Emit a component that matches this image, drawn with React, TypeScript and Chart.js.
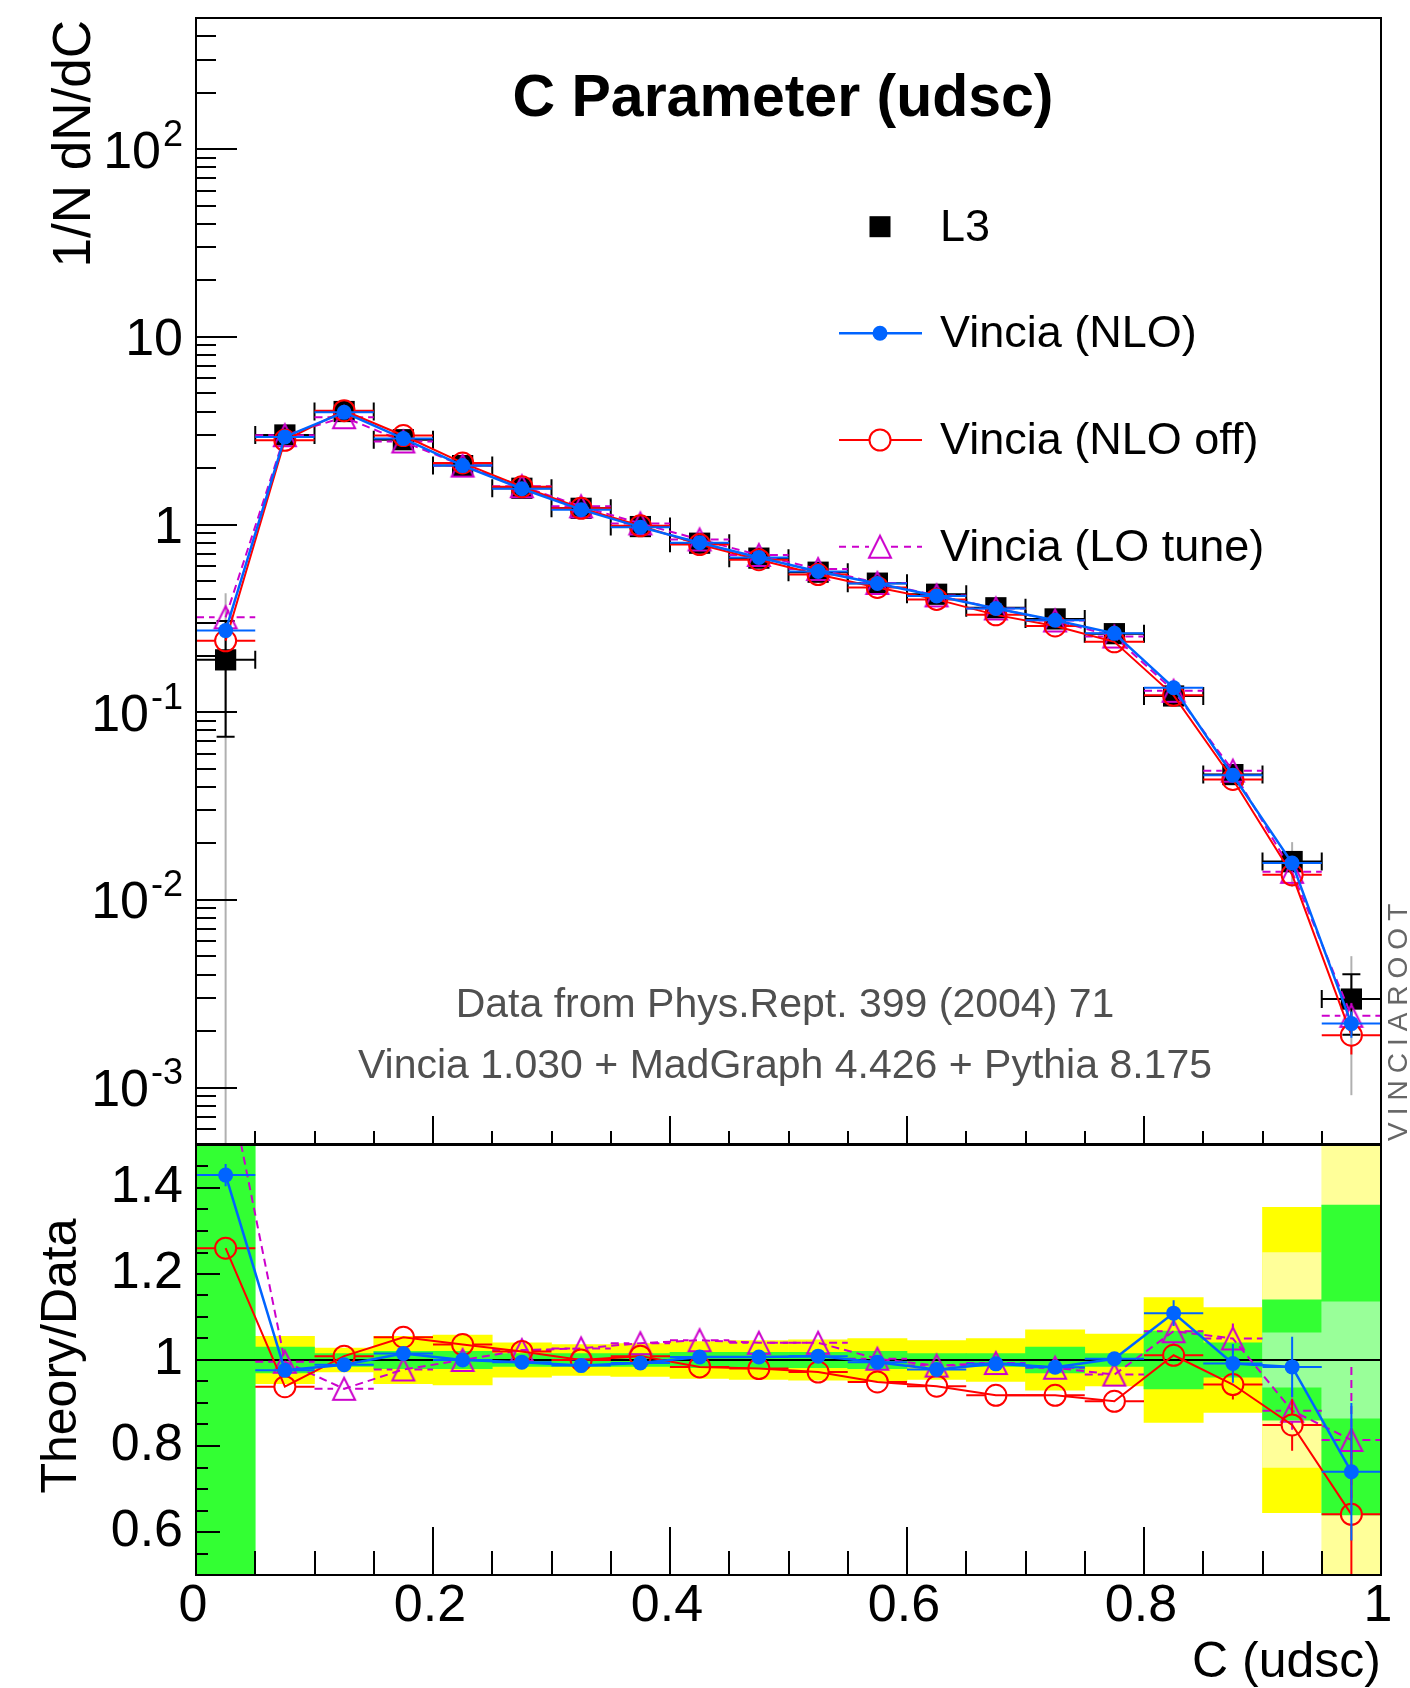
import React, { useEffect, useRef } from 'react';
import { Chart, registerables } from 'chart.js';

Chart.register(...registerables);

const FONT = '"Liberation Sans", Arial, Helvetica, sans-serif';

// ---------- data ----------
const BIN_CENTERS = [0.025, 0.075, 0.125, 0.175, 0.225, 0.275, 0.325, 0.375, 0.425, 0.475, 0.525, 0.575, 0.625, 0.675, 0.725, 0.775, 0.825, 0.875, 0.925, 0.975];
const BIN_HALF = 0.025;

// top panel: 1/N dN/dC
const L3 = [0.19, 3.0, 4.0, 2.83, 2.06, 1.56, 1.22, 0.975, 0.795, 0.662, 0.557, 0.487, 0.425, 0.36, 0.314, 0.262, 0.122, 0.0465, 0.016, 0.00296];
const L3_STAT = [0.116, 0.03, 0.04, 0.03, 0.02, 0.016, 0.012, 0.01, 0.008, 0.007, 0.006, 0.005, 0.005, 0.004, 0.004, 0.004, 0.003, 0.0015, 0.0018, 0.00105];
const L3_TOTAL = [0.24, 0.15, 0.11, 0.08, 0.06, 0.05, 0.04, 0.035, 0.03, 0.025, 0.022, 0.02, 0.018, 0.016, 0.014, 0.012, 0.012, 0.004, 0.0043, 0.00205];

const NLO = [0.272, 2.93, 3.96, 2.87, 2.06, 1.55, 1.2, 0.968, 0.8, 0.667, 0.562, 0.485, 0.416, 0.357, 0.309, 0.263, 0.135, 0.0461, 0.0157, 0.00219];
const NLO_OFF = [0.24, 2.81, 4.04, 2.98, 2.13, 1.59, 1.22, 0.984, 0.782, 0.649, 0.541, 0.462, 0.399, 0.33, 0.288, 0.237, 0.123, 0.0438, 0.0136, 0.0019];
const LO_TUNE = [0.32, 2.99, 3.73, 2.77, 2.06, 1.6, 1.25, 1.013, 0.832, 0.688, 0.579, 0.488, 0.419, 0.357, 0.308, 0.253, 0.13, 0.0488, 0.0141, 0.00241];
const NLO_ERR = [0, 0, 0, 0, 0, 0, 0, 0, 0, 0, 0, 0, 0, 0, 0, 0, 0, 0, 0.0008, 0.00035];
const NLO_OFF_ERR = [0, 0, 0, 0, 0, 0, 0, 0, 0, 0, 0, 0, 0, 0, 0, 0, 0, 0, 0.0009, 0.0004];
const LO_TUNE_ERR = [0, 0, 0, 0, 0, 0, 0, 0, 0, 0, 0, 0, 0, 0, 0, 0, 0, 0, 0.0007, 0.0004];

// bottom panel: Theory/Data
const RATIO_NLO = [1.43, 0.976, 0.989, 1.015, 1.0, 0.995, 0.987, 0.993, 1.007, 1.007, 1.009, 0.995, 0.978, 0.991, 0.983, 1.003, 1.109, 0.992, 0.984, 0.74];
const RATIO_NLO_OFF = [1.26, 0.938, 1.009, 1.053, 1.036, 1.02, 1.0, 1.009, 0.984, 0.98, 0.972, 0.949, 0.939, 0.918, 0.918, 0.904, 1.011, 0.943, 0.849, 0.641];
const RATIO_LO_TUNE = [1.68, 0.996, 0.933, 0.978, 1.0, 1.023, 1.027, 1.039, 1.046, 1.04, 1.04, 1.003, 0.987, 0.993, 0.982, 0.966, 1.067, 1.05, 0.882, 0.814];
const RATIO_NLO_ERR = [0.026, 0.006, 0.005, 0.005, 0.005, 0.005, 0.005, 0.005, 0.006, 0.006, 0.006, 0.007, 0.008, 0.009, 0.01, 0.012, 0.03, 0.045, 0.07, 0.16];
const RATIO_NLO_OFF_ERR = [0.02, 0.006, 0.005, 0.005, 0.005, 0.005, 0.005, 0.005, 0.006, 0.006, 0.006, 0.007, 0.008, 0.009, 0.01, 0.012, 0.025, 0.035, 0.06, 0.2];
const RATIO_LO_TUNE_ERR = [0.03, 0.006, 0.005, 0.005, 0.005, 0.005, 0.005, 0.005, 0.006, 0.006, 0.006, 0.007, 0.008, 0.009, 0.01, 0.012, 0.03, 0.035, 0.05, 0.17];

// data uncertainty bands (half widths around 1)
const BAND_YELLOW = [0, 0.055, 0.028, 0.055, 0.058, 0.04, 0.036, 0.038, 0.043, 0.045, 0.047, 0.05, 0.045, 0.05, 0.07, 0.06, 0.145, 0.122, 0.355, 0];
const BAND_PALE_YELLOW = [0, 0, 0, 0, 0, 0, 0, 0, 0, 0, 0, 0, 0, 0, 0, 0, 0, 0, 0.25, 0.6];
const BAND_GREEN = [0.6, 0.03, 0.015, 0.02, 0.02, 0.015, 0.015, 0.015, 0.018, 0.018, 0.018, 0.02, 0.015, 0.015, 0.03, 0.015, 0.067, 0.04, 0.14, 0.36];
const BAND_LIGHT_GREEN = [0, 0, 0, 0, 0, 0, 0, 0, 0, 0, 0, 0, 0, 0, 0, 0, 0, 0, 0.063, 0.135];

// axes
const X_TICK_VALUES = [0, 0.2, 0.4, 0.6, 0.8, 1];
const X_TICK_LABELS = ['0', '0.2', '0.4', '0.6', '0.8', '1'];
const RATIO_TICK_VALUES = [0.6, 0.8, 1, 1.2, 1.4];
const RATIO_TICK_LABELS = ['0.6', '0.8', '1', '1.2', '1.4'];
const LOG_TICK_VALUES = [0.001, 0.01, 0.1, 1, 10, 100];
const LOG_TICK_BASES = ['10', '10', '10', '1', '10', '10'];
const LOG_TICK_EXPS = ['-3', '-2', '-1', '', '', '2'];

const LEGEND_LABELS = ['L3', 'Vincia (NLO)', 'Vincia (NLO off)', 'Vincia (LO tune)'];
const ANNOTATIONS = ['Data from Phys.Rept. 399 (2004) 71', 'Vincia 1.030 + MadGraph 4.426 + Pythia 8.175'];
const TITLE = 'C Parameter (udsc)';

// ---------- styles ----------
const BLUE = 'rgb(0,100,255)';
const RED = '#ff0000';
const MAG = '#cc00cc';
const GRAY = '#b0b0b0';
const DASH = [8, 5];

const W = 1410;
const TOP_H = 1146;
const BOT_TOP = 1144;
const BOT_H = 544;

function makeTriangle(color: string): HTMLCanvasElement {
  const c = document.createElement('canvas');
  c.width = 28;
  c.height = 28;
  const g = c.getContext('2d')!;
  g.strokeStyle = color;
  g.lineWidth = 2;
  g.beginPath();
  g.moveTo(14, 3);
  g.lineTo(25, 25);
  g.lineTo(3, 25);
  g.closePath();
  g.stroke();
  return c;
}

const pts = (vals: number[]) => BIN_CENTERS.map((x, i) => ({ x, y: vals[i] }));

interface ErrSpec {
  values: number[];
  err: number[];
  color: string;
  width: number;
  dash: number[];
  caps: number;
  gap: number;
  outer?: number[];
}

function errPlugin(id: string, specs: Record<number, ErrSpec>) {
  return {
    id,
    beforeDatasetDraw(chart: any, args: any) {
      const s = specs[args.index];
      if (!s) return;
      const { ctx, chartArea: a } = chart;
      const xs = chart.scales.x;
      const ys = chart.scales.y;
      const isLog = ys.type === 'logarithmic';
      const yPix = (v: number) => (isLog && v <= 0 ? a.bottom + 20 : ys.getPixelForValue(v));
      ctx.save();
      ctx.beginPath();
      ctx.rect(a.left, a.top, a.right - a.left, a.bottom - a.top);
      ctx.clip();
      s.values.forEach((v, i) => {
        const cx = xs.getPixelForValue(BIN_CENTERS[i]);
        const xl = xs.getPixelForValue(BIN_CENTERS[i] - BIN_HALF);
        const xr = xs.getPixelForValue(BIN_CENTERS[i] + BIN_HALF);
        const cy = yPix(v);
        const g = s.gap;
        if (s.outer && s.outer[i] > 0) {
          ctx.strokeStyle = GRAY;
          ctx.lineWidth = 2;
          ctx.setLineDash([]);
          ctx.beginPath();
          ctx.moveTo(cx, yPix(v + s.outer[i]));
          ctx.lineTo(cx, yPix(v - s.outer[i]));
          ctx.stroke();
        }
        ctx.strokeStyle = s.color;
        ctx.lineWidth = s.width;
        ctx.setLineDash(s.dash);
        ctx.beginPath();
        ctx.moveTo(xl, cy);
        ctx.lineTo(cx - g, cy);
        ctx.moveTo(cx + g, cy);
        ctx.lineTo(xr, cy);
        if (s.caps) {
          ctx.moveTo(xl, cy - s.caps);
          ctx.lineTo(xl, cy + s.caps);
          ctx.moveTo(xr, cy - s.caps);
          ctx.lineTo(xr, cy + s.caps);
        }
        const e = s.err[i];
        if (e > 0) {
          const yt = yPix(v + e);
          const yb = yPix(v - e);
          if (yt < cy - g) {
            ctx.moveTo(cx, yt);
            ctx.lineTo(cx, cy - g);
          }
          if (yb > cy + g) {
            ctx.moveTo(cx, cy + g);
            ctx.lineTo(cx, yb);
          }
          if (s.caps) {
            ctx.moveTo(cx - s.caps, yt);
            ctx.lineTo(cx + s.caps, yt);
            ctx.moveTo(cx - s.caps, yb);
            ctx.lineTo(cx + s.caps, yb);
          }
        }
        ctx.stroke();
      });
      ctx.restore();
    },
  };
}

function drawLegend(ctx: CanvasRenderingContext2D, tri: HTMLCanvasElement) {
  const xm = 880;
  const ys = [226.7, 333.3, 440, 546.7];
  ctx.save();
  // L3
  ctx.fillStyle = '#000';
  ctx.fillRect(xm - 10.5, ys[0] - 10.5, 21, 21);
  // NLO
  ctx.strokeStyle = BLUE;
  ctx.lineWidth = 2.5;
  ctx.beginPath();
  ctx.moveTo(839, ys[1]);
  ctx.lineTo(922, ys[1]);
  ctx.stroke();
  ctx.fillStyle = BLUE;
  ctx.beginPath();
  ctx.arc(xm, ys[1], 7.5, 0, Math.PI * 2);
  ctx.fill();
  // NLO off
  ctx.strokeStyle = RED;
  ctx.lineWidth = 2;
  ctx.beginPath();
  ctx.moveTo(839, ys[2]);
  ctx.lineTo(xm - 10.5, ys[2]);
  ctx.moveTo(xm + 10.5, ys[2]);
  ctx.lineTo(922, ys[2]);
  ctx.stroke();
  ctx.beginPath();
  ctx.arc(xm, ys[2], 10.5, 0, Math.PI * 2);
  ctx.stroke();
  // LO tune
  ctx.strokeStyle = MAG;
  ctx.setLineDash([7, 6]);
  ctx.beginPath();
  ctx.moveTo(839, ys[3]);
  ctx.lineTo(xm - 11, ys[3]);
  ctx.moveTo(xm + 11, ys[3]);
  ctx.lineTo(922, ys[3]);
  ctx.stroke();
  ctx.setLineDash([]);
  ctx.drawImage(tri, xm - 14, ys[3] - 14);
  // labels
  ctx.fillStyle = '#000';
  ctx.font = `45px ${FONT}`;
  ctx.textAlign = 'left';
  ctx.textBaseline = 'alphabetic';
  LEGEND_LABELS.forEach((t, i) => ctx.fillText(t, 940, ys[i] + 14));
  ctx.restore();
}

function makeTopDecor(tri: HTMLCanvasElement) {
  return {
    id: 'topDecor',
    afterDatasetsDraw(chart: any) {
      const { ctx, chartArea: a } = chart;
      const x = chart.scales.x;
      const y = chart.scales.y;
      ctx.save();
      ctx.strokeStyle = '#000';
      ctx.lineWidth = 2;
      ctx.setLineDash([]);
      ctx.beginPath();
      for (let e = -4; e <= 2; e++) {
        for (let k = 1; k < 10; k++) {
          const v = k * Math.pow(10, e);
          if (v <= y.min * 1.001 || v >= y.max * 0.999) continue;
          const py = Math.round(y.getPixelForValue(v));
          const len = k === 1 ? 41 : 20;
          ctx.moveTo(a.left, py);
          ctx.lineTo(a.left + len, py);
        }
      }
      for (let i = 1; i < 20; i++) {
        const px = Math.round(x.getPixelForValue(i * 0.05));
        const len = i % 4 === 0 ? 28 : 13;
        ctx.moveTo(px, a.bottom);
        ctx.lineTo(px, a.bottom - len);
      }
      ctx.stroke();
      ctx.strokeRect(a.left, a.top, a.right - a.left, a.bottom - a.top);
      ctx.restore();
    },
    afterDraw(chart: any) {
      const { ctx } = chart;
      const y = chart.scales.y;
      ctx.save();
      ctx.fillStyle = '#000';
      // log tick labels
      LOG_TICK_VALUES.forEach((v, i) => {
        const py = y.getPixelForValue(v);
        const base = LOG_TICK_BASES[i];
        const exp = LOG_TICK_EXPS[i];
        ctx.font = `52px ${FONT}`;
        const bw = ctx.measureText(base).width;
        ctx.font = `36px ${FONT}`;
        const ew = exp ? ctx.measureText(exp).width + 2 : 0;
        const x0 = 183 - bw - ew;
        const baseline = py + 18.6;
        ctx.textAlign = 'left';
        ctx.textBaseline = 'alphabetic';
        ctx.font = `52px ${FONT}`;
        ctx.fillText(base, x0, baseline);
        if (exp) {
          ctx.font = `36px ${FONT}`;
          ctx.fillText(exp, x0 + bw + 2, baseline - 22);
        }
      });
      // y title
      ctx.save();
      ctx.translate(90, 20);
      ctx.rotate(-Math.PI / 2);
      ctx.font = `53px ${FONT}`;
      ctx.textAlign = 'right';
      ctx.textBaseline = 'alphabetic';
      ctx.fillText('1/N dN/dC', 0, 0);
      ctx.restore();
      // title
      ctx.font = `bold 59px ${FONT}`;
      ctx.textAlign = 'center';
      ctx.textBaseline = 'alphabetic';
      ctx.fillText(TITLE, 783, 116);
      // annotations
      ctx.fillStyle = '#505050';
      ctx.font = `41px ${FONT}`;
      ctx.fillText(ANNOTATIONS[0], 785, 1017);
      ctx.fillText(ANNOTATIONS[1], 785, 1078);
      // VINCIAROOT
      ctx.save();
      ctx.translate(1407, 1141);
      ctx.rotate(-Math.PI / 2);
      ctx.fillStyle = '#666666';
      ctx.font = `28px ${FONT}`;
      (ctx as any).letterSpacing = '7px';
      ctx.textAlign = 'left';
      ctx.fillText('VINCIAROOT', 0, 0);
      ctx.restore();
      ctx.restore();
      drawLegend(ctx, tri);
    },
  };
}

const botDecor = {
  id: 'botDecor',
  afterDatasetsDraw(chart: any) {
    const { ctx, chartArea: a } = chart;
    const x = chart.scales.x;
    const y = chart.scales.y;
    ctx.save();
    ctx.strokeStyle = '#000';
    ctx.lineWidth = 2;
    ctx.setLineDash([]);
    ctx.beginPath();
    for (let i = 11; i <= 29; i++) {
      const py = Math.round(y.getPixelForValue(i * 0.05));
      const len = i % 4 === 0 ? 24 : 12;
      ctx.moveTo(a.left, py);
      ctx.lineTo(a.left + len, py);
    }
    for (let i = 1; i < 20; i++) {
      const px = Math.round(x.getPixelForValue(i * 0.05));
      const len = i % 4 === 0 ? 48 : 24;
      ctx.moveTo(px, a.bottom);
      ctx.lineTo(px, a.bottom - len);
    }
    ctx.stroke();
    ctx.strokeRect(a.left, a.top, a.right - a.left, a.bottom - a.top);
    ctx.restore();
  },
  afterDraw(chart: any) {
    const { ctx } = chart;
    const x = chart.scales.x;
    const y = chart.scales.y;
    ctx.save();
    ctx.fillStyle = '#000';
    ctx.font = `52px ${FONT}`;
    ctx.textAlign = 'right';
    ctx.textBaseline = 'middle';
    RATIO_TICK_VALUES.forEach((v, i) => ctx.fillText(RATIO_TICK_LABELS[i], 183, y.getPixelForValue(v)));
    ctx.textAlign = 'center';
    ctx.textBaseline = 'alphabetic';
    X_TICK_VALUES.forEach((v, i) => ctx.fillText(X_TICK_LABELS[i], x.getPixelForValue(v) - 3, 1621 - BOT_TOP));
    ctx.font = `50px ${FONT}`;
    ctx.textAlign = 'right';
    ctx.fillText('C (udsc)', 1381, 1677 - BOT_TOP);
    ctx.save();
    ctx.translate(76, 1356 - BOT_TOP);
    ctx.rotate(-Math.PI / 2);
    ctx.textAlign = 'center';
    ctx.fillText('Theory/Data', 0, 0);
    ctx.restore();
    ctx.restore();
  },
};

const band = (half: number[], color: string, order: number) => ({
  type: 'bar' as const,
  label: 'band',
  data: BIN_CENTERS.map((x, i) => (half[i] > 0 ? { x, y: [1 - half[i], 1 + half[i]] } : null)).filter((d) => d !== null),
  backgroundColor: color,
  borderWidth: 0,
  grouped: false,
  barPercentage: 1,
  categoryPercentage: 1,
  order,
});

export default function App() {
  const topRef = useRef<HTMLCanvasElement>(null);
  const botRef = useRef<HTMLCanvasElement>(null);

  useEffect(() => {
    const tri = makeTriangle(MAG);
    const common = {
      responsive: false,
      animation: false as const,
      devicePixelRatio: 1,
      events: [] as any[],
      plugins: { legend: { display: false }, tooltip: { enabled: false } },
      elements: { line: { tension: 0 } },
    };

    const topErr = errPlugin('topErr', {
      0: { values: L3, err: L3_STAT, color: '#000', width: 2, dash: [], caps: 9, gap: 0, outer: L3_TOTAL },
      1: { values: NLO, err: NLO_ERR, color: BLUE, width: 2, dash: [], caps: 0, gap: 0 },
      2: { values: NLO_OFF, err: NLO_OFF_ERR, color: RED, width: 2, dash: [], caps: 0, gap: 10.5 },
      3: { values: LO_TUNE, err: LO_TUNE_ERR, color: MAG, width: 2, dash: DASH, caps: 0, gap: 11 },
    });

    const top = new Chart(topRef.current!, {
      type: 'line',
      data: {
        datasets: [
          { label: LEGEND_LABELS[0], data: pts(L3), showLine: false, pointStyle: 'rect', pointRadius: 15, pointBackgroundColor: '#000', pointBorderColor: '#000', pointBorderWidth: 0, order: 4 },
          { label: LEGEND_LABELS[1], data: pts(NLO), borderColor: BLUE, borderWidth: 2.5, pointStyle: 'circle', pointRadius: 7.5, pointBackgroundColor: BLUE, pointBorderColor: BLUE, pointBorderWidth: 0, order: 1 },
          { label: LEGEND_LABELS[2], data: pts(NLO_OFF), borderColor: RED, borderWidth: 2, pointStyle: 'circle', pointRadius: 10.5, pointBackgroundColor: 'rgba(0,0,0,0)', pointBorderColor: RED, pointBorderWidth: 2, order: 2 },
          { label: LEGEND_LABELS[3], data: pts(LO_TUNE), borderColor: MAG, borderWidth: 2, borderDash: DASH, pointStyle: tri as any, pointRadius: 14, order: 3 },
        ],
      },
      options: {
        ...common,
        layout: { autoPadding: false, padding: { left: 196, right: W - 1381, top: 18, bottom: TOP_H - 1144 } },
        scales: {
          x: { type: 'linear', min: 0, max: 1, display: false, bounds: 'data', offset: false },
          y: { type: 'logarithmic', min: 5e-4, max: 500, display: false, bounds: 'data' },
        },
      } as any,
      plugins: [topErr, makeTopDecor(tri)],
    });

    const botErr = errPlugin('botErr', {
      5: { values: RATIO_NLO, err: RATIO_NLO_ERR, color: BLUE, width: 2, dash: [], caps: 0, gap: 0 },
      6: { values: RATIO_NLO_OFF, err: RATIO_NLO_OFF_ERR, color: RED, width: 2, dash: [], caps: 0, gap: 10.5 },
      7: { values: RATIO_LO_TUNE, err: RATIO_LO_TUNE_ERR, color: MAG, width: 2, dash: DASH, caps: 0, gap: 11 },
    });

    const bot = new Chart(botRef.current!, {
      type: 'line',
      data: {
        datasets: [
          band(BAND_YELLOW, '#ffff00', 14),
          band(BAND_PALE_YELLOW, '#ffff99', 13),
          band(BAND_GREEN, '#33ff33', 12),
          band(BAND_LIGHT_GREEN, '#99ff99', 11),
          { type: 'line', label: 'unity', data: [{ x: 0, y: 1 }, { x: 1, y: 1 }], borderColor: '#000', borderWidth: 2, pointRadius: 0, order: 5 },
          { type: 'line', label: LEGEND_LABELS[1], data: pts(RATIO_NLO), borderColor: BLUE, borderWidth: 2.5, pointStyle: 'circle', pointRadius: 7.5, pointBackgroundColor: BLUE, pointBorderColor: BLUE, pointBorderWidth: 0, order: 1 },
          { type: 'line', label: LEGEND_LABELS[2], data: pts(RATIO_NLO_OFF), borderColor: RED, borderWidth: 2, pointStyle: 'circle', pointRadius: 10.5, pointBackgroundColor: 'rgba(0,0,0,0)', pointBorderColor: RED, pointBorderWidth: 2, order: 2 },
          { type: 'line', label: LEGEND_LABELS[3], data: pts(RATIO_LO_TUNE), borderColor: MAG, borderWidth: 2, borderDash: DASH, pointStyle: tri as any, pointRadius: 14, order: 3 },
        ] as any,
      },
      options: {
        ...common,
        layout: { autoPadding: false, padding: { left: 196, right: W - 1381, top: 1145 - BOT_TOP, bottom: BOT_TOP + BOT_H - 1575 } },
        scales: {
          x: { type: 'linear', min: 0, max: 1, display: false, bounds: 'data', offset: false, ticks: { stepSize: 0.05 } },
          y: { type: 'linear', min: 0.5, max: 1.5, display: false, bounds: 'data' },
        },
      } as any,
      plugins: [botErr, botDecor],
    });

    return () => {
      top.destroy();
      bot.destroy();
    };
  }, []);

  return (
    <div style={{ position: 'absolute', left: 0, top: 0, width: W, height: 1688, background: '#fff' }}>
      <canvas ref={topRef} width={W} height={TOP_H} style={{ position: 'absolute', left: 0, top: 0, width: W, height: TOP_H }} />
      <canvas ref={botRef} width={W} height={BOT_H} style={{ position: 'absolute', left: 0, top: BOT_TOP, width: W, height: BOT_H }} />
    </div>
  );
}
